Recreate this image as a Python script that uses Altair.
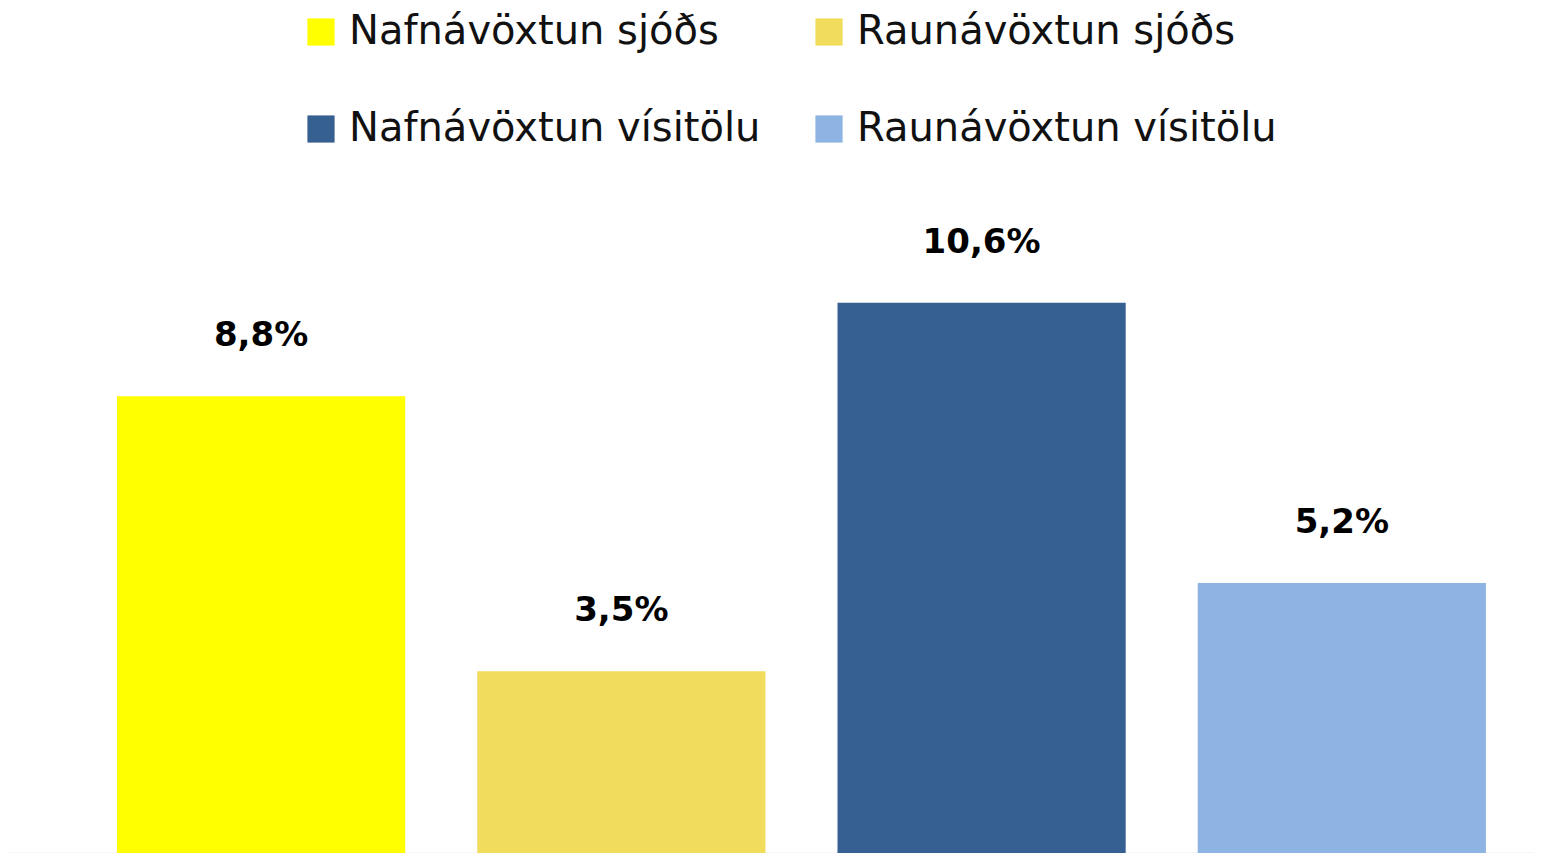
import altair as alt
import pandas as pd

series = ["Nafnávöxtun sjóðs", "Raunávöxtun sjóðs", "Nafnávöxtun vísitölu", "Raunávöxtun vísitölu"]
values = [8.8, 3.5, 10.6, 5.2]
labels = ["8,8%", "3,5%", "10,6%", "5,2%"]
colors = ["#FFFF00", "#F1DD5B", "#376092", "#8EB4E3"]

df = pd.DataFrame({"series": series, "value": values, "label": labels})

x_enc = alt.X(
    "series:N",
    sort=series,
    scale=alt.Scale(paddingInner=0.2, paddingOuter=0.218, align=0.694),
    axis=alt.Axis(title=None, labels=False, ticks=False, grid=False,
                  domain=True, domainColor="#d9d9d9", domainWidth=1.5),
)
y_enc = alt.Y("value:Q", scale=alt.Scale(domain=[0, 16.28], nice=False, zero=True), axis=None)

base = alt.Chart(df).encode(x=x_enc, y=y_enc)

bars = base.mark_bar().encode(
    color=alt.Color(
        "series:N",
        sort=series,
        scale=alt.Scale(domain=series, range=colors),
        legend=alt.Legend(
            title=None,
            orient="none",
            legendX=293,
            legendY=4,
            columns=2,
            direction="horizontal",
            padding=0,
            symbolType="square",
            symbolSize=740,
            symbolStrokeWidth=0,
            symbolOpacity=1,
            labelFont="DejaVu Sans",
            labelFontSize=40,
            labelColor="#111111",
            labelLimit=1000,
            labelOffset=8,
            columnPadding=48,
            rowPadding=57,
        ),
    )
)

text = base.mark_text(
    dy=-50, baseline="alphabetic", align="center",
    font="DejaVu Sans", fontWeight="bold", fontSize=34, color="#000000",
).encode(text="label:N")

chart = (
    alt.layer(bars, text)
    .properties(width=1526, height=845, padding=0, autosize="none", background="white")
    .configure_view(stroke=None)
)

chart.save("out.html", embed_options={"renderer": "svg", "actions": False})
